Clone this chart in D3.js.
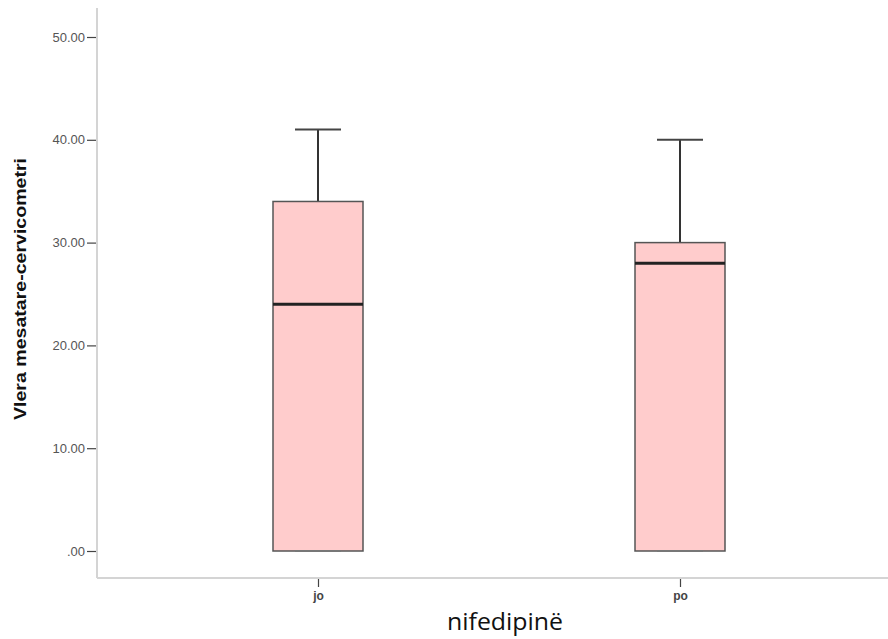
<!DOCTYPE html>
<html>
<head>
<meta charset="utf-8">
<script src="https://cdn.jsdelivr.net/npm/d3@7"></script>
<style>
  body { margin: 0; background: #fff; }
  svg { display: block; }
</style>
</head>
<body>
<div id="chart"></div>
<script>
// data
const groups = ["jo", "po"];
const whiskerLow = [0, 0];
const q1 = [0, 0];
const medians = [24, 28];
const q3 = [34, 30];
const whiskerHigh = [41, 40];
const yTicks = [0, 10, 20, 30, 40, 50];

const boxes = groups.map((g, i) => ({
    group: g, lo: whiskerLow[i], q1: q1[i], med: medians[i], q3: q3[i], hi: whiskerHigh[i]
}));

const W = 888, H = 639;
const svg = d3.select("#chart").append("svg")
    .attr("width", W)
    .attr("height", H);

const axisX = 97, axisY = 578;

const y = d3.scaleLinear()
    .domain([0, 50])
    .range([551, 37]);

const x = d3.scalePoint()
    .domain(groups)
    .range([318, 680]);

const boxW = 90, capW = 46;

// axis lines
svg.append("line")
    .attr("x1", axisX).attr("x2", axisX)
    .attr("y1", 8).attr("y2", axisY)
    .attr("stroke", "#d4d4d4").attr("stroke-width", 2);
svg.append("line")
    .attr("x1", axisX).attr("x2", W)
    .attr("y1", axisY).attr("y2", axisY)
    .attr("stroke", "#d4d4d4").attr("stroke-width", 2);

// y axis
const yAxis = svg.append("g")
    .attr("transform", `translate(${axisX - 1},0)`)
    .call(d3.axisLeft(y).tickValues(yTicks).tickSize(9).tickPadding(2)
        .tickFormat(d => d === 0 ? ".00" : d3.format(".2f")(d)));
yAxis.select(".domain").remove();
yAxis.selectAll(".tick line").attr("stroke", "#444").attr("stroke-width", 1.2);
yAxis.selectAll(".tick text")
    .attr("fill", "#555")
    .style("font-family", "Liberation Sans, Arial, sans-serif")
    .style("font-size", "13px");

// x axis
const xAxis = svg.append("g")
    .attr("transform", `translate(0,${axisY + 1})`)
    .call(d3.axisBottom(x).tickSize(8).tickPadding(4));
xAxis.select(".domain").remove();
xAxis.selectAll(".tick line").attr("stroke", "#444").attr("stroke-width", 1.2);
xAxis.selectAll(".tick text")
    .attr("fill", "#444")
    .style("font-family", "Liberation Sans, Arial, sans-serif")
    .style("font-size", "12px")
    .style("font-weight", "bold");

// axis titles
svg.append("text")
    .attr("x", 505)
    .attr("y", 630)
    .attr("text-anchor", "middle")
    .attr("textLength", 116)
    .attr("lengthAdjust", "spacingAndGlyphs")
    .style("font-family", "Open Sans, Noto Sans, sans-serif")
    .style("font-size", "23px")
    .attr("fill", "#111")
    .text("nifedipinë");

svg.append("text")
    .attr("transform", "rotate(-90)")
    .attr("x", -289)
    .attr("y", 26)
    .attr("text-anchor", "middle")
    .attr("textLength", 262)
    .attr("lengthAdjust", "spacingAndGlyphs")
    .style("font-family", "Liberation Sans, Arial, sans-serif")
    .style("font-size", "17px")
    .style("font-weight", "bold")
    .attr("fill", "#111")
    .text("Vlera mesatare-cervicometri");

// boxes
const g = svg.selectAll(".box")
    .data(boxes)
    .enter()
    .append("g")
    .attr("class", "box");

// upper whisker
g.append("line")
    .attr("x1", d => x(d.group)).attr("x2", d => x(d.group))
    .attr("y1", d => y(d.hi)).attr("y2", d => y(d.q3))
    .attr("stroke", "#333").attr("stroke-width", 2);
g.append("line")
    .attr("x1", d => x(d.group) - capW / 2).attr("x2", d => x(d.group) + capW / 2)
    .attr("y1", d => y(d.hi)).attr("y2", d => y(d.hi))
    .attr("stroke", "#444").attr("stroke-width", 2);

g.append("rect")
    .attr("x", d => x(d.group) - boxW / 2)
    .attr("width", boxW)
    .attr("y", d => y(d.q3))
    .attr("height", d => y(d.q1) - y(d.q3))
    .attr("fill", "#ffcccc")
    .attr("stroke", "#555")
    .attr("stroke-width", 1.5);

// lower cap
g.append("line")
    .attr("x1", d => x(d.group) - capW / 2).attr("x2", d => x(d.group) + capW / 2)
    .attr("y1", d => y(d.lo)).attr("y2", d => y(d.lo))
    .attr("stroke", "#777").attr("stroke-width", 2);

// median
g.append("line")
    .attr("x1", d => x(d.group) - boxW / 2).attr("x2", d => x(d.group) + boxW / 2)
    .attr("y1", d => y(d.med)).attr("y2", d => y(d.med))
    .attr("stroke", "#222").attr("stroke-width", 3);
</script>
</body>
</html>
